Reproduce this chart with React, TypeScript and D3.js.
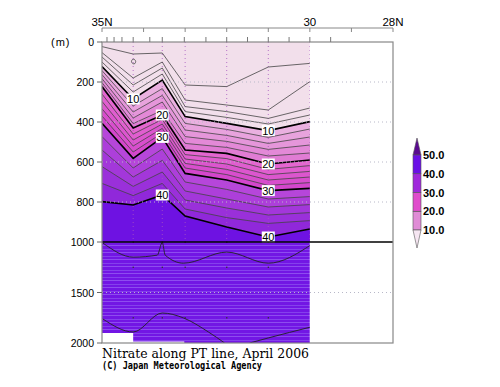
import React from "react";
import * as d3 from "d3";

// stations along the section (deg N)
const stationLats = [35, 34.25, 33.55, 33, 32, 31, 30];

// contour levels (umol/kg) and depth (m) of each isoline at each station
const levels = [2, 4, 6, 8, 10, 12, 14, 16, 18, 20, 22, 24, 26, 28, 30, 32, 34, 36, 38, 40];
const isoDepths = [
  [23, 60, 55, 215, 223, 125, 107],
  [53, 180, 100, 290, 315, 340, 198],
  [75, 215, 130, 323, 348, 382, 330],
  [100, 250, 160, 348, 377, 410, 365],
  [123, 285, 190, 373, 407, 443, 398],
  [143, 320, 233, 407, 437, 477, 435],
  [163, 350, 267, 440, 467, 507, 475],
  [183, 380, 300, 473, 497, 537, 515],
  [203, 408, 342, 507, 527, 570, 555],
  [223, 430, 365, 540, 557, 610, 590],
  [260, 460, 387, 563, 583, 637, 618],
  [297, 490, 410, 585, 610, 663, 647],
  [334, 520, 432, 607, 637, 690, 675],
  [370, 550, 455, 630, 663, 717, 703],
  [407, 582, 477, 657, 690, 743, 732],
  [473, 630, 535, 700, 737, 785, 773],
  [540, 675, 592, 745, 785, 825, 813],
  [623, 722, 650, 790, 830, 865, 853],
  [707, 768, 707, 835, 878, 907, 893],
  [798, 815, 765, 870, 925, 975, 935],
];

// little closed contour near the surface
const ringLats = [34.27, 34.22, 34.19, 34.21, 34.26, 34.29];
const ringDepths = [88, 87, 97, 108, 108, 98];

// labelled contours
const contourLabels = [
  { lat: 34.25, level: 10 },
  { lat: 31, level: 10 },
  { lat: 33.55, level: 20 },
  { lat: 31, level: 20 },
  { lat: 33.55, level: 30 },
  { lat: 31, level: 30 },
  { lat: 33.55, level: 40 },
  { lat: 31, level: 40 },
];

// deep contours below 1000 m
const deepALats = [34.98, 34.25, 33.67, 33.55, 33.48, 33.04, 32.0, 31.0, 29.98];
const deepADepths = [1010, 1150, 1130, 1005, 1130, 1210, 1100, 1210, 1030];
const deepBLats = [34.98, 34.25, 33.55, 33.04, 32.44, 32.05];
const deepBDepths = [1762, 1891, 1703, 1752, 1891, 2000];
const deepCLats = [31.45, 31.0, 29.98];
const deepCDepths = [2000, 1950, 1842];

// missing data near the bottom
const bottomLats = [35, 34.25, 33.02, 30];
const bottomDepths = [1900, 1985, 2000, 2000];

const dotLats = [34.25, 33.55, 33, 32, 31];
const dotDepths = [1000, 1250, 1750];

const depthTicks = [0, 200, 400, 600, 800, 1000, 1500, 2000];
const gridDepths = [200, 400, 600, 800, 1500];
const degreeTicks = [35, 34, 33, 32, 31, 30, 29, 28];
const topLabels = [
  { lat: 35, text: "35N" },
  { lat: 30, text: "30" },
  { lat: 28, text: "28N" },
];
const frameTickLats = [34.88, 34.71, 34.52, 34.25, 33.85, 33.55, 33.02, 32.5, 32, 31.5, 31, 30.5, 30, 29.5];

const legendBreaks = [10, 20, 30, 40, 50];
const legendColors = ["#e08cd6", "#e04ccc", "#a028dc", "#6a10e6"];

const x = d3.scaleLinear().domain([35, 28]).range([102, 393]);
const y = d3.scaleLinear().domain([0, 1000, 2000]).range([42, 242, 343]);
const ly = d3.scaleLinear().domain([10, 50]).range([230, 155]);

const bandColor = (lv: number) => {
  if (lv < 10) return "#f2dfeb";
  if (lv < 20) return d3.interpolateRgb("#eab0e0", "#e07cd4")((lv - 10) / 8);
  if (lv < 30) return d3.interpolateRgb("#e466d0", "#d446cc")((lv - 20) / 8);
  if (lv < 40) return d3.interpolateRgb("#b646da", "#9028da")((lv - 30) / 8);
  return "#6e12e2";
};

type P = { lat: number; d: number };
const toPts = (lats: number[], ds: number[]): P[] => lats.map((lat, i) => ({ lat, d: ds[i] }));

const lineGen = d3
  .line<P>()
  .x((p) => x(p.lat))
  .y((p) => y(p.d));
const areaGen = d3
  .area<P>()
  .x((p) => x(p.lat))
  .y0((p) => y(p.d))
  .y1(y(1000));
const deepLine = d3
  .line<P>()
  .x((p) => x(p.lat))
  .y((p) => y(p.d))
  .curve(d3.curveMonotoneX);

const sans = "Liberation Sans, Arial, sans-serif";

export default function App() {
  const x0 = x(35);
  const x1 = x(28);
  const xd = x(30);
  const y0 = y(0);
  const y1 = y(2000);

  return (
    <svg
      width={500}
      height={387}
      style={{ position: "absolute", left: 0, top: 0, background: "#fff" }}
      fontFamily={sans}
    >
      <defs>
        <clipPath id="dataClip">
          <rect x={x0} y={y0} width={xd - x0} height={y1 - y0} />
        </clipPath>
        <pattern id="stripes" width={5} height={7} patternUnits="userSpaceOnUse">
          <rect width={5} height={7} fill="#7216e4" />
          <rect y={0} width={5} height={1} fill="#8e4cef" />
          <rect y={4} width={5} height={1} fill="#8540ec" />
        </pattern>
      </defs>

      <g clipPath="url(#dataClip)">
        {/* upper panel fills */}
        <rect x={x0} y={y0} width={xd - x0} height={y(1000) - y0} fill={bandColor(0)} />
        {levels.map((lv, i) =>
          lv >= 10 ? (
            <path key={"a" + lv} d={areaGen(toPts(stationLats, isoDepths[i])) || ""} fill={bandColor(lv)} />
          ) : null
        )}
        {/* lower panel */}
        <rect x={x0} y={y(1000)} width={xd - x0} height={y1 - y(1000)} fill="url(#stripes)" />
        <path
          d={
            d3
              .area<P>()
              .x((p) => x(p.lat))
              .y0((p) => y(p.d))
              .y1(y(2000))
              .curve(d3.curveStepAfter)(toPts(bottomLats, bottomDepths)) || ""
          }
          fill="#fff"
        />

        {/* station lines */}
        {stationLats.slice(1).map((lat) => (
          <line
            key={"st" + lat}
            x1={x(lat)}
            x2={x(lat)}
            y1={y0}
            y2={y(1000)}
            stroke="#a858c0"
            strokeWidth={1}
            strokeDasharray="1,3"
            opacity={0.8}
          />
        ))}
        {dotLats.map((lat) =>
          dotDepths.map((dp) => (
            <rect key={"dt" + lat + dp} x={x(lat) - 0.6} y={y(dp) - 0.6} width={1.3} height={1.3} fill="#333" />
          ))
        )}

        {/* contour lines */}
        {levels.map((lv, i) => (
          <path
            key={"l" + lv}
            d={lineGen(toPts(stationLats, isoDepths[i])) || ""}
            fill="none"
            stroke={lv % 10 === 0 ? "#000" : "#444"}
            strokeWidth={lv % 10 === 0 ? 1.6 : 0.8}
          />
        ))}
        <path
          d={d3
            .line<P>()
            .x((p) => x(p.lat))
            .y((p) => y(p.d))
            .curve(d3.curveCardinalClosed)(toPts(ringLats, ringDepths)) || ""}
          fill="none"
          stroke="#444"
          strokeWidth={0.8}
        />
        <path d={deepLine(toPts(deepALats, deepADepths)) || ""} fill="none" stroke="#222" strokeWidth={0.9} />
        <path d={deepLine(toPts(deepBLats, deepBDepths)) || ""} fill="none" stroke="#222" strokeWidth={0.9} />
        <path d={deepLine(toPts(deepCLats, deepCDepths)) || ""} fill="none" stroke="#222" strokeWidth={0.9} />
      </g>

      {/* horizontal dotted grid */}
      {gridDepths.map((dp) => (
        <line
          key={"g" + dp}
          x1={x0}
          x2={x1}
          y1={y(dp)}
          y2={y(dp)}
          stroke="#b8b8c8"
          strokeWidth={1}
          strokeDasharray="1,3"
        />
      ))}

      {/* contour labels */}
      {contourLabels.map((c) => {
        const i = levels.indexOf(c.level);
        const si = stationLats.indexOf(c.lat);
        const cx = x(c.lat);
        const cy = y(isoDepths[i][si]);
        return (
          <g key={"cl" + c.lat + c.level}>
            <rect x={cx - 6.5} y={cy - 5.5} width={13} height={11} fill="#fff" />
            <text x={cx} y={cy + 4} textAnchor="middle" fontSize={11} fill="#000">
              {c.level}
            </text>
          </g>
        );
      })}

      {/* 1000 m divider */}
      <line x1={x0} x2={x1} y1={y(1000)} y2={y(1000)} stroke="#000" strokeWidth={1.6} />

      {/* frame */}
      <rect x={x0} y={y0} width={x1 - x0} height={y1 - y0} fill="none" stroke="#888" strokeWidth={1.2} />

      {/* left axis */}
      {depthTicks.map((dp) => (
        <g key={"yt" + dp}>
          <line x1={x0 - 5} x2={x0} y1={y(dp)} y2={y(dp)} stroke="#666" strokeWidth={1} />
          <text x={94} y={y(dp) + 4} textAnchor="end" fontSize={10.5} fill="#000">
            {dp}
          </text>
        </g>
      ))}
      <text x={51} y={y(0) + 4} fontSize={11} fill="#000" letterSpacing={1}>
        (m)
      </text>

      {/* frame top ticks */}
      {frameTickLats.map((lat) => (
        <line key={"ft" + lat} x1={x(lat)} x2={x(lat)} y1={y0 - 5} y2={y0} stroke="#777" strokeWidth={1} />
      ))}

      {/* top latitude axis */}
      <line x1={x0} x2={x1} y1={28} y2={28} stroke="#888" strokeWidth={1} />
      {degreeTicks.map((lat) => (
        <line key={"dt" + lat} x1={x(lat)} x2={x(lat)} y1={28} y2={32} stroke="#888" strokeWidth={1} />
      ))}
      {topLabels.map((t) => (
        <text key={t.text} x={x(t.lat)} y={26} textAnchor="middle" fontSize={11.5} fill="#000">
          {t.text}
        </text>
      ))}

      {/* legend */}
      <path
        d={`M${413},${ly(50)} L${417},${ly(50) - 17} L${421},${ly(50)} Z`}
        fill="#5a0a90"
        stroke="#555"
        strokeWidth={0.6}
      />
      {legendColors.map((c, i) => (
        <rect
          key={"lg" + i}
          x={413}
          y={ly(legendBreaks[i + 1])}
          width={8}
          height={ly(legendBreaks[i]) - ly(legendBreaks[i + 1])}
          fill={c}
          stroke="#555"
          strokeWidth={0.6}
        />
      ))}
      <path
        d={`M${413},${ly(10)} L${417},${ly(10) + 18} L${421},${ly(10)} Z`}
        fill="#f6e6f2"
        stroke="#555"
        strokeWidth={0.6}
      />
      {legendBreaks.map((b) => (
        <text key={"lb" + b} x={423} y={ly(b) + 4} fontSize={11} fontWeight="bold" fill="#000">
          {b.toFixed(1)}
        </text>
      ))}

      {/* titles */}
      <text
        x={102}
        y={358}
        fontFamily="DejaVu Serif, serif"
        fontSize={13}
        textLength={207}
        lengthAdjust="spacingAndGlyphs"
        fill="#000"
      >
        Nitrate along PT line, April 2006
      </text>
      <text
        x={102}
        y={369}
        fontFamily="DejaVu Sans Mono, monospace"
        fontSize={10}
        fontWeight="bold"
        textLength={160}
        lengthAdjust="spacingAndGlyphs"
        fill="#000"
      >
        (C) Japan Meteorological Agency
      </text>
    </svg>
  );
}
